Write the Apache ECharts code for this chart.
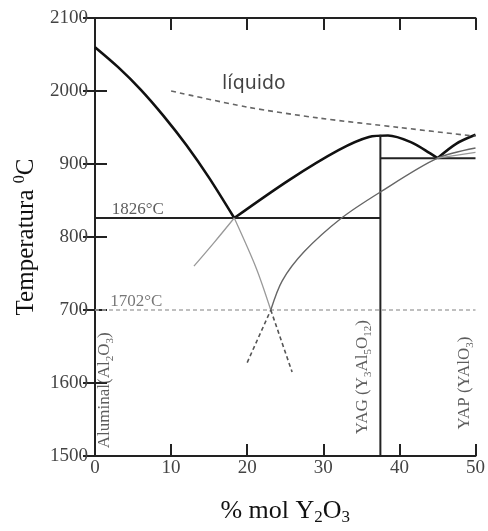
<!DOCTYPE html>
<html>
<head>
<meta charset="utf-8">
<script src="https://cdn.jsdelivr.net/npm/echarts@6/dist/echarts.min.js"></script>
<style>
  html, body { margin: 0; padding: 0; background: #fff; }
  #chart { width: 488px; height: 531px; }
</style>
</head>
<body>
<div id="chart"></div>
<script>
  // tick labels as printed in the original figure
  var yTickValues = [1500, 1600, 1700, 1800, 1900, 2000, 2100]
  var yTickLabels = ['1500', '1600', '700', '800', '900', '2000', '2100']

  // liquidus curves (x = % mol Y2O3, y = temperature)
  var liqAl = [[0, 2060], [3, 2033], [6, 2002], [9, 1966], [12, 1926], [15, 1881], [18.3, 1826]]
  var liqYag = [[18.3, 1826], [25.5, 1878], [32, 1919], [36, 1937], [38.5, 1939], [41.5, 1930], [44, 1915], [45, 1908]]
  var liqYap = [[45, 1908], [47.5, 1928], [50, 1940]]
  var liqMeta = [[10, 2000], [20, 1978], [29.4, 1963], [40, 1950], [50, 1938]]

  // invariant lines
  var eut1826 = [[0, 1826], [37.5, 1826]]
  var eut1702 = [[0, 1700], [50, 1700]]
  var yagLine = [[37.5, 1500], [37.5, 1940]]
  var yapLine = [[37.5, 1908], [50, 1908]]

  // metastable extensions
  var grayAlUp = [[13, 1760], [15.7, 1793], [18.3, 1826]]
  var grayAlDown = [[18.3, 1826], [21.2, 1757], [23.1, 1700]]
  var grayYag = [[23.1, 1700], [24.6, 1740], [27.5, 1780], [32.4, 1826], [37.4, 1861], [45, 1908], [50, 1922]]
  var grayYap = [[45, 1908], [50, 1916]]
  var dashL = [[20, 1628], [23.1, 1700]]
  var dashR = [[23.1, 1700], [25.9, 1615]]

  // annotation anchors
  var liqLabelPos = [16.7, 2009]
  var t1826Pos = [2.2, 1826]
  var t1702Pos = [2.0, 1700]
  var aluminaPos = [1.3, 1590]
  var yagPos = [35.2, 1608]
  var yapPos = [48.6, 1600]

  var chart = echarts.init(document.getElementById('chart'))

  function line (data, color, width, type, smooth) {
    return {
      type: 'line',
      data: data,
      symbol: 'none',
      smooth: smooth || false,
      silent: true,
      lineStyle: {color: color, width: width, type: type || 'solid'},
      z: 3
    }
  }

  var serif = 'Liberation Serif'
  var subRich = {
    n: {fontFamily: serif, fontSize: 17, color: '#333', lineHeight: 21},
    s: {fontFamily: serif, fontSize: 11, color: '#333', verticalAlign: 'bottom'}
  }

  function note (pos, text, extra) {
    return {
      type: 'scatter',
      symbolSize: 0,
      silent: true,
      data: [pos],
      label: Object.assign({show: true, formatter: text, rich: subRich}, extra),
      z: 5
    }
  }

  var axisCommon = {
    type: 'value',
    axisLine: {show: true, lineStyle: {color: '#222', width: 2}},
    axisTick: {show: true, inside: true, length: 12, lineStyle: {color: '#222', width: 2}},
    splitLine: {show: false}
  }

  chart.setOption({
    animation: false,
    backgroundColor: '#fff',
    grid: {left: 95, right: 10, top: 18, bottom: 74},
    xAxis: [
      Object.assign({}, axisCommon, {
        min: 0, max: 50, interval: 10, position: 'bottom',
        axisLabel: {fontFamily: serif, fontSize: 19, color: '#444', margin: 3},
        name: '{n|% mol Y}{s|2}{n|O}{s|3}',
        nameLocation: 'middle',
        nameGap: 40,
        nameTextStyle: {
          rich: {
            n: {fontFamily: serif, fontSize: 26, color: '#111', lineHeight: 30},
            s: {fontFamily: serif, fontSize: 17, color: '#111', verticalAlign: 'bottom'}
          }
        }
      }),
      Object.assign({}, axisCommon, {
        min: 0, max: 50, interval: 10, position: 'top',
        axisLabel: {show: false}
      })
    ],
    yAxis: [
      Object.assign({}, axisCommon, {
        min: 1500, max: 2100, interval: 100, position: 'left',
        axisLabel: {
          fontFamily: serif, fontSize: 19, color: '#444', margin: 7,
          formatter: function (v) {
            var i = yTickValues.indexOf(v)
            return i >= 0 ? yTickLabels[i] : ''
          }
        },
        name: '{n|Temperatura }{p|0}{n|C}',
        nameLocation: 'middle',
        nameGap: 53,
        nameTextStyle: {
          rich: {
            n: {fontFamily: serif, fontSize: 25, color: '#111', lineHeight: 30},
            p: {fontFamily: serif, fontSize: 16, color: '#111', verticalAlign: 'top'}
          }
        }
      }),
      Object.assign({}, axisCommon, {
        min: 1500, max: 2100, interval: 100, position: 'right',
        axisLabel: {show: false}
      })
    ],
    series: [
      line(liqAl, '#111', 2.6, 'solid', 0.3),
      line(liqYag, '#111', 2.6, 'solid', 0.3),
      line(liqYap, '#111', 2.6, 'solid', 0.3),
      line(liqMeta, '#666', 1.6, [5, 4], 0.3),
      line(eut1826, '#222', 2),
      line(eut1702, '#aaa', 1.3, [4, 3]),
      line(yagLine, '#222', 2),
      line(yapLine, '#222', 2),
      line(grayAlUp, '#999', 1.3, 'solid', 0.3),
      line(grayAlDown, '#999', 1.3, 'solid', 0.3),
      line(grayYag, '#666', 1.4, 'solid', 0.3),
      line(grayYap, '#999', 1.2),
      line(dashL, '#555', 1.6, [4, 3]),
      line(dashR, '#555', 1.6, [4, 3]),
      note(liqLabelPos, 'líquido', {
        position: 'right', distance: 0,
        rich: null, fontFamily: 'DejaVu Sans', fontSize: 19, color: '#111'
      }),
      note(t1826Pos, '1826°C', {
        position: 'top', align: 'left', distance: 0,
        rich: null, fontFamily: serif, fontSize: 17, color: '#333'
      }),
      note(t1702Pos, '1702°C', {
        position: 'top', align: 'left', distance: 0,
        rich: null, fontFamily: serif, fontSize: 17, color: '#555'
      }),
      note(aluminaPos, '{n|Aluminal(Al}{s|2}{n|O}{s|3}{n|)}', {
        position: 'inside', rotate: 90, align: 'center', verticalAlign: 'middle'
      }),
      note(yagPos, '{n|YAG (Y}{s|3}{n|Al}{s|5}{n|O}{s|12}{n|)}', {
        position: 'inside', rotate: 90, align: 'center', verticalAlign: 'middle'
      }),
      note(yapPos, '{n|YAP (YAlO}{s|3}{n|)}', {
        position: 'inside', rotate: 90, align: 'center', verticalAlign: 'middle'
      })
    ]
  })
</script>
</body>
</html>
